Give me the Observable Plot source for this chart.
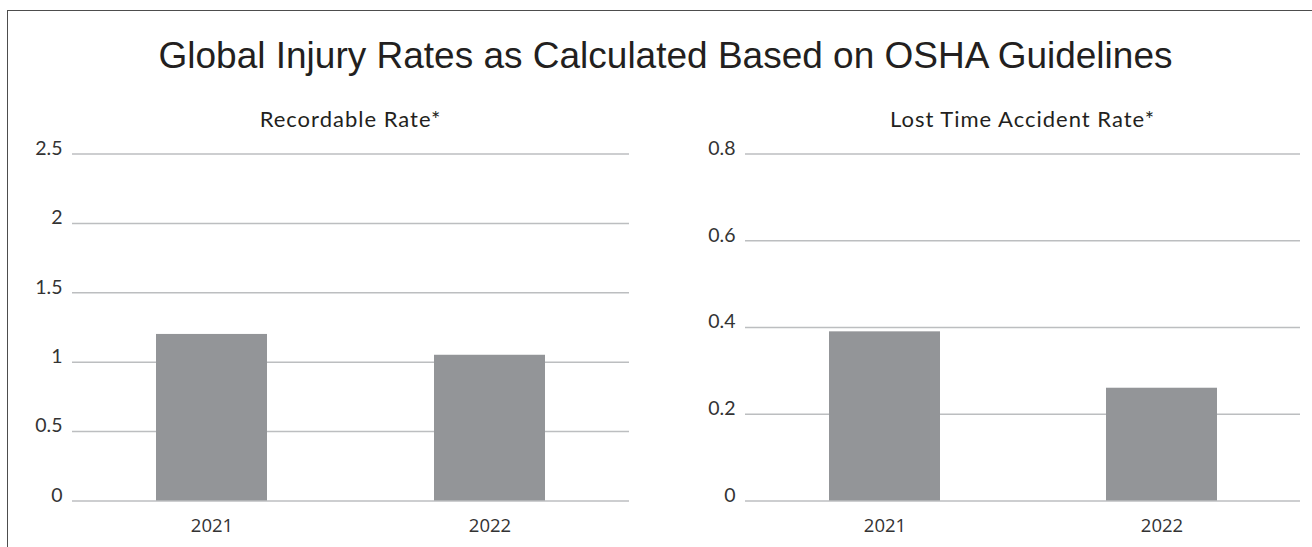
<!DOCTYPE html>
<html>
<head>
<meta charset="utf-8">
<script src="https://cdn.jsdelivr.net/npm/d3@7"></script>
<script src="https://cdn.jsdelivr.net/npm/@observablehq/plot@0.6"></script>
<style>
  html, body { margin: 0; padding: 0; background: #fff; }
  #wrap { position: relative; width: 1312px; height: 547px; overflow: hidden; background: #fff; }
  #frame { position: absolute; left: 7px; top: 10px; width: 1400px; height: 700px;
           border-left: 1.5px solid #4d4d4d; border-top: 1.5px solid #4d4d4d; }
  #title { position: absolute; left: 0; width: 1331px; top: 34px; text-align: center;
           font-family: "Liberation Sans", Arial, sans-serif; font-size: 37px; color: #231f20; line-height: 44px; white-space: nowrap; }
  .sub { position: absolute; top: 105px; text-align: center; font-family: Lato, sans-serif;
         font-size: 22px; letter-spacing: 1px; color: #231f20; line-height: 28px; white-space: nowrap; }
  .panel { position: absolute; top: 130px; }
</style>
</head>
<body>
<div id="wrap">
  <div id="frame"></div>
  <div id="title">Global Injury Rates as Calculated Based on OSHA Guidelines</div>
  <div class="sub" id="sub1" style="left:72px;width:557px;">Recordable Rate*</div>
  <div class="sub" id="sub2" style="left:745px;width:555px;">Lost Time Accident Rate*</div>
  <div class="panel" id="p1" style="left:0px;"></div>
  <div class="panel" id="p2" style="left:656px;"></div>
</div>
<script>
const years = ["2021", "2022"];
const recordableRate = [1.2, 1.05];
const lostTimeRate = [0.39, 0.26];
const recordableTicks = [0, 0.5, 1, 1.5, 2, 2.5];
const lostTimeTicks = [0, 0.2, 0.4, 0.6, 0.8];

const barColor = "#939598";
const gridColor = "#bcbec0";
const textColor = "#333333";

function panel(values, ticks, opts) {
  const data = years.map((y, i) => ({year: y, value: values[i]}));
  return Plot.plot({
    width: 656,
    height: 417,
    marginLeft: opts.marginLeft,
    marginRight: opts.marginRight,
    marginTop: 23.5,
    marginBottom: 46.5,
    style: {fontFamily: "Lato, sans-serif", background: "transparent", overflow: "visible"},
    x: {domain: years, paddingInner: 0.6, paddingOuter: 0.3, label: null},
    y: {domain: [0, ticks[ticks.length - 1]], label: null},
    marks: [
      Plot.ruleY(ticks, {stroke: gridColor, strokeWidth: 1.5}),
      Plot.barY(data, {x: "year", y: "value", fill: barColor}),
      Plot.axisY(ticks, {tickSize: 0, tickPadding: 10, fontSize: 19.5, fill: textColor, dy: -5.5,
        fontFamily: "Lato, sans-serif", tickFormat: d => String(d), label: null}),
      Plot.axisX({tickSize: 0, tickPadding: 18, fontSize: 18.5, fill: textColor,
        fontFamily: "'Open Sans', sans-serif", label: null})
    ]
  });
}

document.getElementById("p1").appendChild(panel(recordableRate, recordableTicks, {marginLeft: 72, marginRight: 27}));
document.getElementById("p2").appendChild(panel(lostTimeRate, lostTimeTicks, {marginLeft: 89, marginRight: 12}));
</script>
</body>
</html>
